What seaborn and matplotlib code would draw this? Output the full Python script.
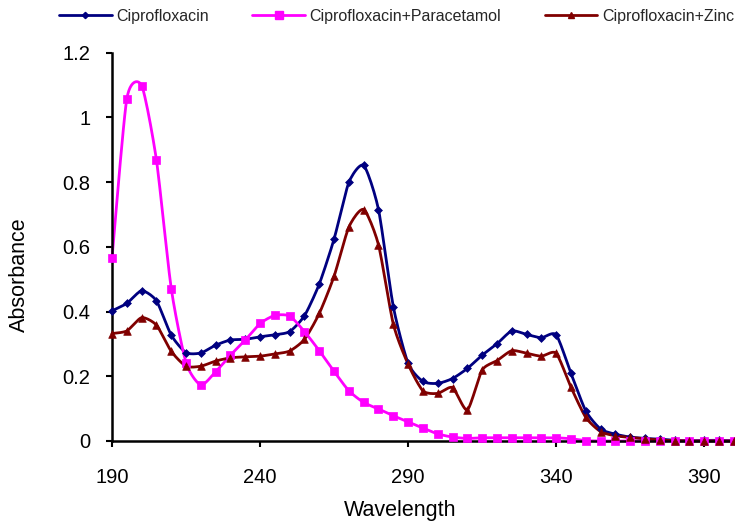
import numpy as np
import pandas as pd
import matplotlib
matplotlib.use("Agg")
import matplotlib.pyplot as plt
from matplotlib.lines import Line2D
from matplotlib.ticker import FuncFormatter, FixedLocator
import seaborn as sns

# ---------------- data ----------------
wavelength = list(range(190, 405, 5))

cipro = [0.402, 0.425, 0.464, 0.433, 0.327, 0.273, 0.272, 0.296, 0.312, 0.314,
         0.322, 0.328, 0.338, 0.387, 0.485, 0.624, 0.799, 0.851, 0.715, 0.415,
         0.240, 0.184, 0.178, 0.193, 0.224, 0.265, 0.300, 0.340, 0.329, 0.319,
         0.328, 0.209, 0.093, 0.037, 0.021, 0.012, 0.008, 0.006, 0.002, 0.001,
         0.002, 0.002, 0.001]

cipro_para = [0.565, 1.057, 1.098, 0.868, 0.471, 0.242, 0.173, 0.214, 0.265, 0.312,
              0.363, 0.388, 0.386, 0.338, 0.279, 0.215, 0.155, 0.119, 0.099, 0.078,
              0.059, 0.040, 0.022, 0.012, 0.008, 0.010, 0.010, 0.010, 0.010, 0.010,
              0.010, 0.007, 0.001, 0.000, 0.000, 0.000, 0.000, 0.000, 0.000, 0.000,
              0.000, 0.000, 0.000]

cipro_zinc = [0.332, 0.340, 0.381, 0.358, 0.277, 0.231, 0.231, 0.247, 0.257, 0.260,
              0.262, 0.269, 0.278, 0.314, 0.394, 0.509, 0.661, 0.715, 0.606, 0.361,
              0.237, 0.155, 0.147, 0.165, 0.096, 0.219, 0.248, 0.279, 0.271, 0.262,
              0.271, 0.166, 0.073, 0.029, 0.016, 0.011, 0.007, 0.003, 0.001, 0.000,
              0.000, 0.000, 0.000]

series_names = ["Ciprofloxacin", "Ciprofloxacin+Paracetamol", "Ciprofloxacin+Zinc"]
x_ticks = [190, 240, 290, 340, 390]
y_ticks = [0, 0.2, 0.4, 0.6, 0.8, 1.0, 1.2]

# ---------------- style ----------------
sns.set_theme(style="white")
plt.rcParams['font.family'] = ['Liberation Sans', 'DejaVu Sans']

colors = ["#000080", "#FF00FF", "#800000"]
markers = ["D", "s", "^"]
msizes = [16, 40, 30]


def smooth(xv, yv, n=12, k=9.0):
    """Smoothed (Bezier) rendering of a line through the data points."""
    p = np.column_stack([xv, yv]).astype(float)
    pts = np.vstack([p[0], p, p[-1]])
    out = []
    t = np.linspace(0, 1, n, endpoint=False)[:, None]
    for i in range(1, len(pts) - 2):
        p0, p1, p2, p3 = pts[i - 1], pts[i], pts[i + 1], pts[i + 2]
        c1 = p1 + (p2 - p0) / k
        c2 = p2 - (p3 - p1) / k
        seg = ((1 - t) ** 3) * p1 + 3 * ((1 - t) ** 2) * t * c1 + 3 * (1 - t) * t ** 2 * c2 + t ** 3 * p2
        out.append(seg)
    out.append(p[-1][None, :])
    out = np.vstack(out)
    return out[:, 0], out[:, 1]


fig = plt.figure(figsize=(7.35, 5.25), dpi=100)
ax = fig.add_axes([0.1524, 0.16, 0.848, 0.74])

df = pd.DataFrame({"Wavelength": wavelength,
                   series_names[0]: cipro,
                   series_names[1]: cipro_para,
                   series_names[2]: cipro_zinc})

handles = []
for name, c, m, s in zip(series_names, colors, markers, msizes):
    sx, sy = smooth(df["Wavelength"].values, df[name].values)
    sns.lineplot(x=sx, y=sy, ax=ax, color=c, lw=2, sort=False, legend=False,
                 estimator=None, clip_on=False)
    sns.scatterplot(x=df["Wavelength"], y=df[name], ax=ax, color=c, marker=m, s=s,
                    edgecolor=c, linewidth=0.5, legend=False, clip_on=False, zorder=3)
    handles.append(Line2D([0], [0], color=c, lw=2, marker=m,
                          markersize=np.sqrt(s) * 0.8, markeredgecolor=c))

ax.set_xlim(190, 400.5)
ax.set_ylim(0, 1.2)
ax.xaxis.set_major_locator(FixedLocator(x_ticks))
ax.yaxis.set_major_locator(FixedLocator(y_ticks))
ax.yaxis.set_major_formatter(FuncFormatter(lambda v, p: f"{v:g}"))

for sp in ["top", "right"]:
    ax.spines[sp].set_visible(False)
for sp in ["left", "bottom"]:
    ax.spines[sp].set_color("black")
    ax.spines[sp].set_linewidth(1.8)

ax.tick_params(axis="both", which="major", direction="out", length=4.5, width=1.5,
               color="black", labelsize=14.5, labelcolor="black",
               bottom=True, left=True)
ax.tick_params(axis="x", pad=15)
ax.tick_params(axis="y", pad=11)

ax.set_xlabel("Wavelength", fontsize=15.5, color="black")
ax.set_ylabel("Absorbance", fontsize=15.5, color="black")
ax.xaxis.set_label_coords(0.462, -0.151)
ax.yaxis.set_label_coords(-0.132, 0.427)
ax.grid(False)

fig.legend(handles, series_names, loc="center left",
           bbox_to_anchor=(59 / 735, 1 - 16 / 525),
           ncol=3, frameon=False, fontsize=11.5, handlelength=3.3,
           columnspacing=2.7, handletextpad=0.3, borderpad=0, borderaxespad=0)

fig.savefig("out.png", dpi=100, facecolor="white")
